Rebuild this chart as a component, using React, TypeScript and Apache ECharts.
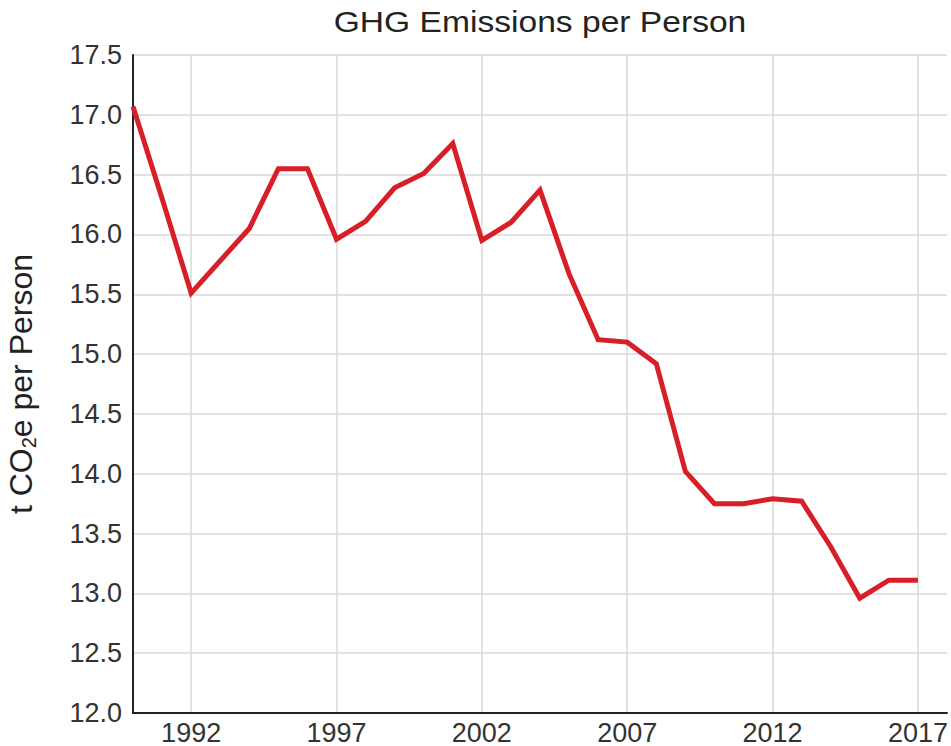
import React, { useEffect, useRef } from "react";
import * as echarts from "echarts";

const years: string[] = [
  "1990", "1991", "1992", "1993", "1994", "1995", "1996", "1997", "1998", "1999",
  "2000", "2001", "2002", "2003", "2004", "2005", "2006", "2007", "2008", "2009",
  "2010", "2011", "2012", "2013", "2014", "2015", "2016", "2017", "2018",
];

const emissions: number[] = [
  17.07, 16.3, 15.51, 15.78, 16.05, 16.55, 16.55, 15.96, 16.11, 16.39,
  16.51, 16.76, 15.95, 16.1, 16.37, 15.67, 15.12, 15.1, 14.92, 14.02,
  13.75, 13.75, 13.79, 13.77, 13.39, 12.96, 13.11, 13.11,
];

const labelYears: string[] = ["1992", "1997", "2002", "2007", "2012", "2017"];

const FONT = "'Liberation Sans', Arial, Helvetica, sans-serif";

export default function App() {
  const ref = useRef<HTMLDivElement>(null);

  useEffect(() => {
    if (!ref.current) return;
    const chart = echarts.init(ref.current, null, { renderer: "svg" });
    const showYear = (i: number) => labelYears.indexOf(years[i]) >= 0;
    chart.setOption({
      animation: false,
      backgroundColor: "#ffffff",
      textStyle: { fontFamily: FONT },
      grid: {
        left: 133,
        right: 4,
        top: 55,
        bottom: 33,
        containLabel: false,
        outerBoundsMode: "none",
      },
      graphic: [
        {
          type: "text",
          x: 540,
          y: 22,
          scaleX: 1.12,
          style: {
            text: "GHG Emissions per Person",
            fontSize: 30,
            fontFamily: FONT,
            fill: "#222222",
            align: "center",
            verticalAlign: "middle",
          },
        },
      ],
      xAxis: {
        type: "category",
        data: years,
        boundaryGap: false,
        axisLine: { show: true, lineStyle: { color: "#222222", width: 2 } },
        axisTick: { show: false },
        axisLabel: {
          interval: (i: number) => showYear(i),
          color: "#333333",
          fontSize: 27,
          fontFamily: FONT,
          margin: 6,
        },
        splitLine: {
          show: true,
          interval: (i: number) => showYear(i),
          lineStyle: { color: "#d9d9d9", width: 1.5 },
        },
      },
      yAxis: {
        type: "value",
        min: 12,
        max: 17.5,
        interval: 0.5,
        name: "t CO{sub|2}e per Person",
        nameLocation: "middle",
        nameRotate: 90,
        nameGap: 94,
        nameTextStyle: {
          color: "#222222",
          fontSize: 32,
          fontFamily: FONT,
          lineHeight: 37,
          rich: {
            sub: {
              fontSize: 20,
              fontFamily: FONT,
              color: "#222222",
              lineHeight: 21,
              verticalAlign: "bottom",
            },
          },
        },
        axisLine: { show: true, lineStyle: { color: "#222222", width: 2 } },
        axisTick: { show: false },
        axisLabel: {
          color: "#333333",
          fontSize: 27,
          fontFamily: FONT,
          margin: 11,
          formatter: (v: number) => v.toFixed(1),
        },
        splitLine: { show: true, lineStyle: { color: "#d9d9d9", width: 1.5 } },
      },
      series: [
        {
          type: "line",
          data: emissions,
          showSymbol: false,
          symbol: "none",
          lineStyle: { color: "#d81e26", width: 5, join: "miter" },
          itemStyle: { color: "#d81e26" },
        },
      ],
    });
    return () => chart.dispose();
  }, []);

  return (
    <div
      ref={ref}
      style={{ position: "absolute", left: 0, top: 0, width: 951, height: 746 }}
    />
  );
}
